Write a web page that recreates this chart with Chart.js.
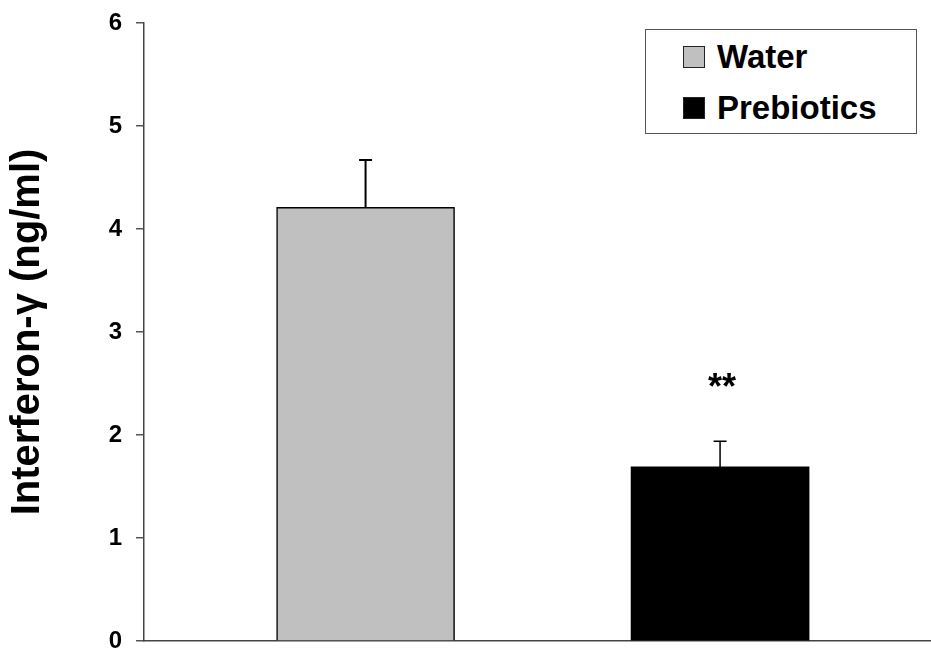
<!DOCTYPE html>
<html>
<head>
<meta charset="utf-8">
<script src="https://cdn.jsdelivr.net/npm/chart.js@4"></script>
<style>
  html, body { margin: 0; padding: 0; background: #fff; }
  #wrap { position: relative; width: 931px; height: 651px; }
  #legend {
    position: absolute; left: 645px; top: 29px; width: 270px; height: 103px;
    border: 1.5px solid #555; background: #fff;
    font-family: "Liberation Sans", Arial, sans-serif; font-weight: bold; font-size: 33px;
  }
  #legend .item { position: absolute; left: 37px; display: flex; align-items: center; height: 30px; }
  #legend .box { width: 20px; height: 20px; border: 1.5px solid #222; margin-right: 12px; }
</style>
</head>
<body>
<div id="wrap">
  <canvas id="chart" width="931" height="651"></canvas>
  <div id="legend"></div>
</div>
<script>
const categories = ['Water', 'Prebiotics'];
const means = [4.21, 1.69];
const errors = [0.46, 0.25];
const marks = ['', '**'];
const positions = [0.5, 1.5];
const colors = ['#c0c0c0', '#000000'];

const font = '"Liberation Sans", Arial, sans-serif';

// Error bars and significance stars
const errorBars = {
    id: 'errorBars',
    afterDatasetsDraw(chart) {
        const ctx = chart.ctx;
        const y = chart.scales.y;
        chart.data.datasets.forEach((ds, i) => {
            const bar = chart.getDatasetMeta(i).data[0];
            const top = y.getPixelForValue(means[i] + errors[i]);
            ctx.save();
            ctx.strokeStyle = '#000';
            ctx.lineWidth = i === 0 ? 2 : 1.5;
            ctx.beginPath();
            ctx.moveTo(bar.x, bar.y);
            ctx.lineTo(bar.x, top);
            ctx.moveTo(bar.x - 6.5, top);
            ctx.lineTo(bar.x + 6.5, top);
            ctx.stroke();
            if (marks[i]) {
                ctx.fillStyle = '#000';
                ctx.font = 'bold 36px ' + font;
                ctx.textAlign = 'center';
                ctx.textBaseline = 'middle';
                ctx.fillText(marks[i], bar.x + 2, top - 52);
            }
            ctx.restore();
        });
    }
};

new Chart(document.getElementById('chart'), {
    type: 'bar',
    data: {
        datasets: categories.map((c, i) => ({
            label: c,
            data: [{ x: positions[i], y: means[i] }],
            backgroundColor: colors[i],
            borderColor: '#000',
            borderWidth: i === 0 ? 1.5 : 0,
            barThickness: 178,
            grouped: false
        }))
    },
    options: {
        responsive: false,
        animation: false,
        layout: { padding: { top: 23, left: 0, right: 0, bottom: 0 } },
        plugins: { legend: { display: false }, tooltip: { enabled: false } },
        scales: {
            x: {
                type: 'linear',
                offset: false,
                min: -0.125,
                max: 2.095,
                grid: { display: false },
                ticks: { display: false },
                border: { display: true, color: '#444', width: 1.5 },
                afterFit: (s) => { s.height = 10; s.paddingLeft = 0; s.paddingRight = 0; }
            },
            y: {
                min: 0,
                max: 6,
                ticks: {
                    stepSize: 1,
                    color: '#000',
                    padding: 14,
                    font: { family: font, size: 24, weight: 'bold' }
                },
                grid: { drawOnChartArea: false, tickLength: 8, color: '#555', lineWidth: 1.5 },
                border: { display: true, color: '#444', width: 1.5 },
                title: {
                    display: true,
                    text: 'Interferon-γ (ng/ml)',
                    color: '#000',
                    padding: { top: 4, bottom: 0 },
                    font: { family: font, size: 40, weight: 'bold' }
                },
                afterFit: (s) => { s.width = 144; s.paddingTop = 0; s.paddingBottom = 0; }
            }
        }
    },
    plugins: [errorBars]
});

// Boxed legend
const legend = document.getElementById('legend');
categories.forEach((c, i) => {
    const item = document.createElement('div');
    item.className = 'item';
    item.style.top = (i === 0 ? 12 : 63) + 'px';
    item.innerHTML = '<span class="box" style="background:' + colors[i] + '"></span><span>' + c + '</span>';
    legend.appendChild(item);
});
</script>
</body>
</html>
